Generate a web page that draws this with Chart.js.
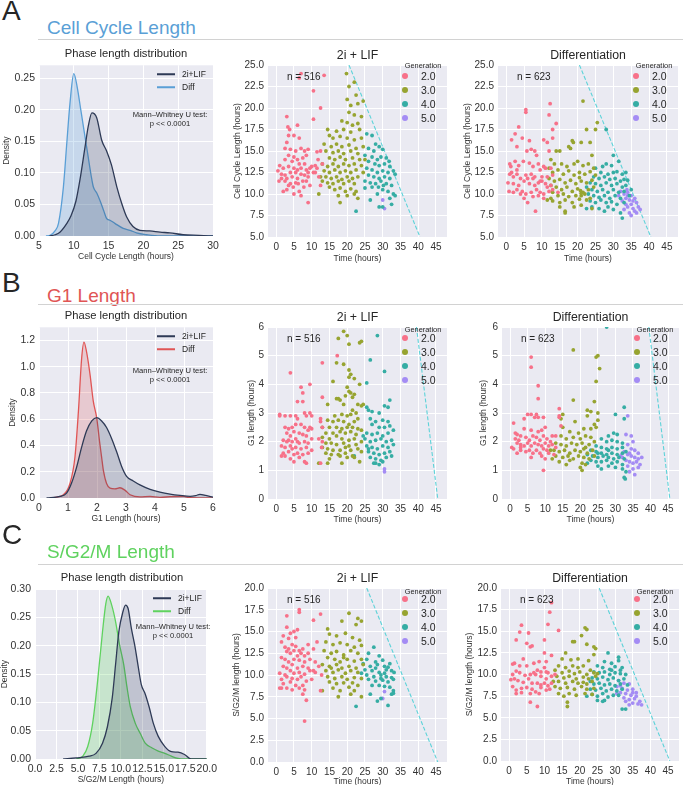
<!DOCTYPE html>
<html>
<head>
<meta charset="utf-8">
<script src="https://cdn.jsdelivr.net/npm/chart.js@4.4.1/dist/chart.umd.min.js"></script>
<style>
  body { margin: 0; width: 685px; height: 785px; position: relative; overflow: hidden; background: #fff;
         font-family: "Liberation Sans", Arial, sans-serif; color: #262626; }
  canvas { position: absolute; }
  .t { position: absolute; white-space: nowrap; line-height: 1; }
  .rule { position: absolute; height: 1px; background: #d2d2d2; }
  .dot { position: absolute; width: 6px; height: 6px; border-radius: 50%; transform: translate(-50%, -50%); }
  .key { position: absolute; width: 18px; height: 1.5px; transform: translateY(-50%); }
</style>
</head>
<body>
<script>
// ---- tick labels ----
const timeTicks = [0, 5, 10, 15, 20, 25, 30, 35, 40, 45];
const ccTicksY = [5, 7.5, 10, 12.5, 15, 17.5, 20, 22.5, 25];
const g1TicksY = [0, 1, 2, 3, 4, 5, 6];
const sgTicksY = [0, 2.5, 5, 7.5, 10, 12.5, 15, 17.5, 20];
const ccKdeTicksX = [5, 10, 15, 20, 25, 30];
const ccKdeTicksY = [0, 0.05, 0.1, 0.15, 0.2, 0.25];
const g1KdeTicksX = [0, 1, 2, 3, 4, 5, 6];
const g1KdeTicksY = [0, 0.2, 0.4, 0.6, 0.8, 1.0, 1.2];
const sgKdeTicksX = [0, 2.5, 5, 7.5, 10, 12.5, 15, 17.5, 20];
const sgKdeTicksY = [0, 0.05, 0.1, 0.15, 0.2, 0.25, 0.3];

const generations = ['2.0', '3.0', '4.0', '5.0'];
const conditions = ['2i+LIF', 'Diff'];
const cellCounts = [516, 623];

// ---- density curves [length, density] ----
const ccLif = [[6.5,0],[7.3,0.002],[8,0.006],[9,0.02],[9.6,0.032],[10.3,0.055],[10.9,0.09],[11.6,0.14],[12.1,0.175],[12.6,0.195],[13.3,0.187],[14,0.152],[14.7,0.135],[15.4,0.113],[16.2,0.077],[16.9,0.051],[17.6,0.03],[18.5,0.015],[19.5,0.009],[20.9,0.008],[22.4,0.006],[23.8,0.005],[25.7,0.002],[28,0.001],[30,0]];
const ccDiff = [[6,0],[6.6,0.001],[7.3,0.008],[7.8,0.02],[8.5,0.077],[9,0.148],[9.45,0.21],[10,0.257],[10.5,0.235],[11,0.2],[11.5,0.165],[12,0.13],[12.5,0.095],[12.8,0.078],[13.3,0.068],[13.8,0.055],[14.3,0.04],[14.7,0.028],[15.2,0.025],[15.9,0.02],[17.1,0.012],[18.1,0.009],[19,0.005],[20.5,0.002],[22.4,0],[30,0]];
const g1Lif = [[0.26,0],[0.72,0.012],[0.95,0.037],[1.12,0.112],[1.3,0.237],[1.47,0.387],[1.64,0.512],[1.82,0.587],[1.99,0.612],[2.16,0.587],[2.33,0.537],[2.51,0.45],[2.68,0.35],[2.85,0.24],[3.02,0.165],[3.25,0.13],[3.48,0.1],[3.83,0.066],[4.17,0.045],[4.52,0.03],[4.86,0.02],[5.21,0.013],[5.4,0.018],[5.55,0.028],[5.75,0.02],[6,0.006]];
const g1Diff = [[0.38,0],[0.84,0.025],[1.07,0.112],[1.24,0.312],[1.36,0.662],[1.47,1.062],[1.55,1.187],[1.64,1.112],[1.76,0.94],[1.87,0.74],[1.99,0.61],[2.1,0.41],[2.16,0.31],[2.22,0.21],[2.33,0.11],[2.45,0.075],[2.62,0.07],[2.79,0.078],[2.97,0.058],[3.14,0.025],[3.48,0.008],[3.83,0.012],[4.17,0.005],[4.52,0.01],[4.98,0.012],[5.21,0.002],[6,0]];
const sgLif = [[3.28,0],[4.8,0.002],[6.3,0.005],[7.1,0.01],[7.86,0.028],[8.43,0.057],[9,0.109],[9.38,0.167],[9.76,0.225],[10.23,0.26],[10.54,0.272],[10.84,0.266],[11.22,0.231],[11.6,0.202],[11.98,0.167],[12.37,0.132],[12.83,0.115],[13.29,0.092],[13.78,0.063],[14.35,0.04],[15.12,0.022],[15.88,0.013],[16.65,0.012],[17.41,0.008],[18.17,0],[20,0]];
const sgDiff = [[4.8,0],[5.57,0.005],[6.14,0.022],[6.71,0.063],[7.29,0.138],[7.86,0.225],[8.25,0.275],[8.51,0.288],[8.93,0.272],[9.38,0.243],[9.84,0.202],[10.33,0.167],[10.71,0.127],[11.1,0.092],[11.68,0.063],[12.26,0.045],[12.83,0.028],[13.59,0.02],[14.35,0.014],[15.12,0.01],[15.88,0.005],[16.65,0.001],[17.4,0],[20,0]];

// ---- per-cell points [time, length] by generation ----
const ccLif2 = [[6.5,23.5],[7,24],[13.5,23.8],[10.5,22],[12.5,20],[10.5,18.7],[3,19],[3.3,17.8],[3.8,17.5],[6,18],[3.5,16.8],[5,16.8],[6.5,16.5],[3,16],[2.5,15.3],[4,15.2],[5.5,15],[7,15.3],[8,15],[9,15.2],[3.5,14.5],[5,14.3],[6,14],[7.5,14.2],[8.5,14.5],[2.5,14],[4.5,13.8],[6.5,13.5],[8,13.5],[9.5,13],[1,13.3],[2,13],[3.5,13.2],[5,13],[6,12.8],[7,13],[8.5,12.8],[10,13.2],[11,13.3],[0.5,12.7],[1.5,12.3],[2.5,12.2],[4,12.5],[5.5,12.5],[7,12.3],[8,12.2],[9,12.5],[10.5,12.5],[1.5,11.8],[3,11.8],[4.5,12],[6,11.8],[7.5,11.5],[9,12],[0.8,11.5],[2.5,11.5],[4,11.2],[5.5,11.3],[8.5,11.5],[3.5,11],[4.8,10.8],[2,10.3],[3,10.5],[5,10],[6.5,10.3],[7,9.8],[9,9],[11.5,14.9],[11.5,13],[12,12],[11,12.5],[12.5,11],[12.5,15],[13,13.5],[11.8,14],[6.2,11.2],[7.8,10.8],[9.5,11]];
const ccLif3 = [[19.8,24],[20.5,22.5],[22,23],[20,21],[22.5,21.5],[21,20.3],[23,20.5],[24.5,20.8],[20.5,19.5],[22,19.2],[24,19],[18.5,18.5],[20,18.3],[21.5,18],[23,18.2],[14.5,17.5],[17,17.3],[19,17.5],[21,17.2],[23.5,17.5],[15,16.8],[16,16.5],[18,16.7],[20,16.5],[22,16.3],[24,16.5],[13.5,15.8],[15.5,15.5],[17,15.8],[18.5,15.5],[20.5,15.7],[22.5,15.3],[24.5,15.5],[14,15],[16,14.8],[17.5,15],[19,14.7],[21,15],[23,14.7],[15,14.2],[16.5,14],[18,14.3],[19.5,14],[21.5,14.2],[23.5,14],[13,13.5],[14.5,13.2],[16,13.5],[17.5,13.2],[19,13.5],[20.5,13.3],[22,13.5],[24,13.3],[13.5,12.7],[15,12.5],[16.5,12.8],[18,12.5],[19.5,12.7],[21,12.5],[22.5,12.8],[14,12],[15.5,11.8],[17,12],[18.5,11.7],[20,12],[21.5,11.8],[23,12],[13,11.5],[14.5,11.3],[16,11.2],[17.5,11.5],[19,11.2],[20.5,11.5],[22,11.2],[15,10.8],[16.5,10.5],[18,10.7],[19.5,10.3],[21,10.6],[22.5,10.3],[12,10],[17.5,9.8],[20,9.8],[22,10],[23,9.5],[18,9],[12.5,12],[24.5,12.5],[25,14]];
const ccLif4 = [[25.5,17],[27,16.8],[28,15.8],[29,15.5],[26,15.3],[27.5,15],[30,15.2],[25,14.5],[27,14.3],[28.5,14],[29.5,14.3],[31,14.2],[26,13.8],[27.8,13.5],[29,13.3],[30.5,13.5],[32,13.2],[25.5,13],[27,12.8],[28.5,12.5],[30,12.7],[31.5,12.5],[33,12.7],[26,12.2],[27.5,12],[29,11.8],[30.5,12],[32,11.8],[33.5,12.3],[25,11.5],[26.5,11.3],[28,11.2],[29.5,11.5],[31,11.2],[32.5,11],[25,10.7],[27,10.8],[30,10.5],[31.5,10.3],[33,10],[28.5,10],[32,9.5],[33.5,9.8],[26.5,9.3],[29,8.5],[30,8.5],[32.5,8.8],[22.5,8],[28.8,10.8],[31.8,13.8],[30.2,11]];
const ccLif5 = [[30.5,8.3],[30,9.3]];

const ccDiff2 = [[5.5,19.8],[5.5,19.5],[12.3,20.5],[12,19.2],[13,17.5],[14,18.2],[1.5,16.3],[2.5,17],[3.5,17.8],[4.5,16.5],[6.5,16.2],[10.5,16.3],[11.5,16],[13,16.5],[3,15.5],[5.8,15],[7,15.2],[8,15],[8.5,14.5],[12,15],[1,13.5],[1.3,13.2],[2.5,13.8],[3.5,13.3],[4.8,13.8],[6.5,13.6],[7.5,13.2],[9,13.5],[10.5,13.2],[11,13],[12.5,13],[1,12.3],[2,12],[3,12.3],[4,11.8],[5.5,12.2],[7,12.3],[8,12],[9.5,11.5],[10,12],[11.5,12],[13,12.2],[0.5,11.3],[2,11.2],[3.5,11],[5,11.5],[6.5,11.2],[8,11],[9,11.3],[10,11.5],[11,11.2],[12.5,11],[0.8,10.3],[2,10.2],[3,10.5],[4.5,10.3],[5.5,10],[7,10.2],[8.5,10.5],[9.5,10.2],[10.5,10],[12,10.3],[13,10.5],[5,9.5],[6,9],[7.5,9.7],[8.2,8],[9,9.8],[10.5,9.5],[14.5,10.2],[11.5,10.8],[4,10],[1.5,12.5],[6,11.8],[7.5,11.8],[9.5,12.8],[3,12.8]];
const ccDiff3 = [[21.5,20.8],[25.5,18.3],[25,17.5],[22.5,17.5],[18.5,16.2],[18.8,16],[17.5,15.5],[21,16],[23.5,16],[14,15],[15,15],[18,15.3],[24,14.5],[12.5,14],[13.5,13.5],[15.5,13.5],[17,13.2],[19,13.5],[20,13.8],[21.5,13.3],[23,13.5],[24.5,13],[12,13],[13,12.5],[14.5,12.8],[16,12.3],[17.5,12.7],[19,12.2],[20.5,12.5],[22,12.3],[23.5,12.6],[25,12.2],[12,11.8],[13.5,11.5],[15,11.7],[16.5,11.3],[18,11.6],[19.5,11.2],[21,11.5],[22.5,11.3],[24,11.6],[12.5,11],[14,10.8],[15.5,10.5],[17,10.8],[18.5,10.3],[20,10.6],[21.5,10.2],[23,10.5],[24.5,10.8],[13,10.2],[14.5,9.8],[16,10],[17.5,9.7],[19.5,9.8],[21,9.8],[22,10],[23.5,9.5],[12.5,9.5],[15,9],[16.5,9.3],[18.5,9],[20.5,9.4],[22.5,9.3],[11.5,9.3],[15,8.5],[16.5,8],[16.5,7.8],[19,8.5],[21,8.7],[21,10.1],[20.8,10.4],[20.5,11.9],[24,8.3],[13,9.2]];
const ccDiff4 = [[28,17.5],[30,14.5],[31.5,13.8],[28,13.5],[27,13.2],[29.5,13.3],[25,13],[26.5,12.5],[28.5,12.3],[30,12.5],[31,12.6],[32.5,12.3],[33.5,12.5],[24.5,12],[26,11.8],[27.5,12],[29,11.7],[30.5,11.8],[32,11.5],[33,11.7],[34,11.6],[23.5,11.3],[25,11.2],[26.5,11],[28,11.3],[29.5,11],[31,11.2],[32.5,10.8],[33.5,11],[22.5,10.8],[24,10.5],[25.5,10.3],[27,10.5],[28.5,10.2],[30,10.5],[31.5,10.2],[33,10.3],[23,10],[24.5,9.8],[26,9.6],[27.5,9.8],[29,9.5],[30.5,9.8],[32,9.5],[34.5,9.8],[23.5,9.2],[25,9],[26.5,9.3],[28,9],[29.5,9.1],[31,8.8],[33,9],[24,8.5],[26,8.3],[28.5,8.5],[30,8.2],[32,7.8],[32.5,7.2],[22.5,8.3],[27.5,8],[35,10.5]];
const ccDiff5 = [[32,10.3],[33,10],[34,10.2],[35,9.8],[33.5,9.5],[34.5,9.3],[36,9.5],[32.5,9.2],[33.5,8.8],[35,8.8],[36.5,9],[34,8.5],[35.5,8.3],[36,8],[37,8.5],[34.5,7.8],[33,8.2],[35,7.5],[36.5,7.8],[31.5,9.8],[34,9.8],[35.5,9.2],[37.5,8.2],[33.8,10.5]];

const g1Lif2 = [[4,4.4],[7,3.9],[7.5,3.7],[9.5,4],[6,3.4],[7.5,3.4],[13,3.55],[13,4.75],[17.2,5],[1,2.95],[1,2.9],[2.5,2.9],[4,2.9],[6,2.8],[8,3],[8.5,2.9],[9.5,3],[10,2.9],[12.5,2.8],[12.5,2.7],[2.5,2.5],[3.5,2.45],[4.5,2.5],[5.5,2.6],[7,2.6],[8,2.5],[9,2.4],[10,2.45],[13,2.5],[3,2.3],[4,2.2],[5,2.35],[6.5,2.3],[7.5,2.25],[8.5,2.2],[10,2.1],[2,2.05],[3.5,2.05],[4.5,2],[5.5,2.1],[6.5,1.95],[8,2],[9,1.95],[12,2.1],[1.5,1.85],[2.5,1.8],[4,1.85],[5.5,1.8],[7,1.75],[8.5,1.8],[10,1.7],[2,1.6],[3.5,1.65],[5,1.55],[6,1.6],[7.5,1.55],[9,1.6],[1.5,1.5],[2.5,1.5],[4,1.4],[6.5,1.45],[8,1.3],[8.5,1.25],[5,1.3],[12.5,1.25],[13,2],[12.8,1.8],[5.5,2.9],[6,2],[3,2],[4.5,1.75],[9.5,2.5]];
const g1Lif3 = [[19,5.85],[20,5.7],[17.5,5.6],[20.5,5.4],[24,5.5],[23.5,5.45],[17,4.75],[19,4.7],[20.5,4.5],[21,4.35],[20.5,4.25],[22,4.2],[16,4.1],[23.5,4],[20,3.9],[20.5,3.75],[19.5,3.6],[21,3.7],[21.5,3.55],[22,3.65],[17,3.5],[17.5,3.5],[18,3.45],[14.5,3.3],[19,3.3],[23,3.3],[24,3.25],[24.5,3.3],[21.5,3.1],[22.5,3],[16.5,2.9],[18.5,2.95],[20,2.9],[21,2.95],[23,2.8],[14.5,2.75],[16,2.7],[17.5,2.75],[19,2.7],[20.5,2.6],[22,2.7],[15,2.5],[17,2.5],[18.5,2.45],[20,2.5],[21.5,2.5],[23,2.45],[14,2.3],[16,2.3],[18,2.35],[19.5,2.3],[21,2.35],[22.5,2.25],[24,2.4],[13,2.15],[15,2.1],[17,2.2],[18.5,2.1],[20.5,2.05],[22,2.1],[24,2],[14,1.95],[15.5,1.95],[17,1.9],[19,1.95],[20.5,1.85],[22.5,1.9],[13,1.8],[14.5,1.75],[16,1.7],[18,1.7],[19.5,1.8],[21,1.7],[23,1.75],[14,1.6],[15.5,1.55],[17.5,1.55],[19.5,1.6],[21.5,1.5],[24,1.65],[15,1.4],[18,1.5],[20,1.45],[22,1.45],[14.5,1.25],[18.5,1.25],[23.5,1.3],[12,1.25],[13,2.5]];
const g1Lif4 = [[28.5,5.7],[26.5,4.85],[30.5,4.45],[25.5,4.05],[30.5,3.25],[31.5,3.2],[32,3.45],[25.5,3.2],[26,3.1],[29,3],[26.5,2.8],[28,2.7],[30,2.75],[31.5,2.7],[27,2.6],[29,2.5],[30.5,2.5],[32,2.55],[25.5,2.3],[27,2.25],[28.5,2.3],[30,2.2],[31.5,2.3],[33,2.4],[25,2.1],[26.5,2],[28,2.05],[29.5,2.1],[31,2],[32.5,2.05],[25.5,1.85],[27,1.8],[28.5,1.75],[30,1.85],[31.5,1.8],[33,1.9],[26,1.65],[27.5,1.6],[29,1.55],[30.5,1.6],[32,1.65],[26.5,1.45],[28,1.4],[29.5,1.35],[31,1.45],[32.5,1.5],[27.5,1.25],[29,1.2],[28,1.25],[22,1.5],[26,1.75],[24.5,2.2],[27,3.05],[30,1.3]];
const g1Lif5 = [[30.5,1.05],[30.5,0.95]];

const g1Diff2 = [[6,4.95],[6,4.6],[8,3.95],[8,3.5],[14,3.15],[14,2.9],[14,2.85],[5,2.95],[6,2.95],[7,2.85],[7.5,2.95],[8,2.85],[4,2.8],[9.5,2.85],[14.5,2.55],[1,2.65],[1.5,2.3],[2,2.25],[4,2.45],[6,2.4],[8,2.35],[9,2.4],[10,2.5],[13,2.2],[1.5,2.1],[2.5,2.05],[3,2.2],[4.5,2.15],[5.5,2.05],[6.5,2.2],[7.5,2.15],[8.5,2.05],[9.5,2.2],[10.5,2.1],[12,2.2],[0.5,1.8],[1,1.75],[2,1.95],[3,1.9],[4,1.85],[5,1.95],[6,1.85],[7,1.95],[8,1.9],[9,1.85],[10,1.95],[11,1.85],[12,1.9],[13,1.8],[2,1.6],[3,1.7],[4.5,1.65],[5.5,1.7],[6.5,1.6],[7.5,1.7],[8.5,1.6],[9.5,1.75],[11,1.6],[12.5,1.55],[6,1.45],[9,1.5],[10,1.4],[9.5,1],[3,1.8],[10.5,1.7],[11.5,2]];
const g1Diff3 = [[18,5.2],[24.5,4.95],[25,5],[25.5,4.55],[24.5,4.1],[18,3.45],[24,3.4],[23,3.05],[22,3.1],[22,2.9],[25,3],[24,2.6],[25,2.75],[24.5,2.5],[15,2.95],[14.5,2.8],[15,2.5],[18.5,2.7],[14.5,2.2],[17,2.35],[19.5,2.3],[21,2.45],[23,2.45],[16,2.1],[18,2.15],[20,2.1],[21.5,2.2],[23,2.15],[24,2],[13,1.95],[14.5,1.9],[16,1.85],[17.5,1.95],[19,1.9],[20.5,1.95],[21.5,1.8],[22.5,1.9],[12.5,1.7],[14,1.65],[15.5,1.7],[17,1.6],[18.5,1.7],[20,1.65],[21,1.75],[22,1.6],[23.5,1.7],[13,1.5],[15,1.45],[16.5,1.5],[18,1.4],[19.5,1.5],[21,1.45],[22.5,1.4],[24,1.5],[12,1.4],[14,1.3],[17,1.35],[20.5,1.25],[21.5,1.2],[20,1.1],[20.5,1],[11.5,1.7],[16,1.2]];
const g1Diff4 = [[27.5,6],[32.5,3.2],[30,2.95],[32.5,2.8],[29.5,2.3],[30.5,2.25],[28,2.2],[26,2.1],[27.5,2],[29,2.05],[30.5,2],[32,1.95],[24.5,1.85],[26,1.8],[27.5,1.75],[29,1.8],[30.5,1.75],[32,1.8],[23,1.7],[24.5,1.65],[26,1.6],[27.5,1.55],[29,1.6],[30.5,1.55],[32,1.6],[33,1.65],[22,1.55],[23.5,1.5],[25,1.45],[26.5,1.5],[28,1.45],[29.5,1.4],[31,1.45],[32.5,1.4],[23,1.35],[24.5,1.3],[26,1.3],[27.5,1.35],[29,1.25],[30.5,1.3],[32,1.2],[25,1.15],[26,1.05],[28,1.15],[30,1.1],[32,1.05],[33,0.95],[32.5,0.75],[32.8,0.7],[22,1.25],[25,1.6],[28,1.7]];
const g1Diff5 = [[33.5,2.9],[33,2.25],[34.5,2.2],[35,2],[33.5,1.9],[34.5,1.75],[35.5,1.7],[36.5,1.6],[32.5,1.65],[33.5,1.55],[34.5,1.5],[35.5,1.45],[36.5,1.4],[32,1.45],[33,1.35],[34,1.3],[35,1.25],[36,1.3],[37,1.2],[33.5,1.15],[35,1.05],[36.5,1.1],[34,0.95],[35.5,0.85],[37.5,1.45],[31.5,1.5],[34,1.6]];

const sgLif2 = [[6.5,17.5],[6.5,17.2],[3,16.8],[12.5,17],[10.5,16.3],[3,15.5],[6,15.2],[5,15],[4,14.8],[2,14.5],[3.5,14.2],[5.5,14.3],[1.5,13.8],[9,13.5],[11.5,13.8],[2.5,13.2],[3.5,13],[4.5,13.5],[5.5,13.3],[6.5,12.8],[7.5,13],[3,12.7],[4,12.5],[5,12.8],[6,12.2],[7,12.5],[8,12.2],[9,12.5],[10.5,13],[1.5,12],[2.5,11.8],[3.5,11.5],[5,11.8],[6.5,11.7],[8,11.5],[9.5,11.8],[11,11.5],[2,11],[3,10.8],[4.5,11.2],[6,10.8],[7.5,11],[9,10.8],[10.5,10.5],[12,11],[1,10.2],[2.5,10],[4,10.5],[5,10.2],[6.5,10.3],[8,10.1],[9.5,10.5],[11,10.3],[1.5,9.5],[3,9.8],[4.5,9.6],[6,9.5],[7,9.8],[8.5,9.3],[10,9.5],[2,9],[4,9.2],[5.5,8.8],[7.5,8.8],[1,8.5],[1.5,8.5],[3,8.5],[4.5,8.3],[6.5,8.5],[8,8.3],[12.5,8.2],[7.5,7.8],[8.5,7.1],[8,4.7],[12.8,10]];
const sgLif3 = [[20.5,17.1],[18.5,16.2],[23,16.5],[24,16.2],[22.5,15.8],[14.5,15.3],[15,14.7],[17,14.5],[19.5,14.8],[21.5,14.3],[23.5,14],[14,13.8],[16,13.5],[18,13.7],[20,13.5],[22,13.2],[24,13.4],[13.5,12.8],[15.5,12.5],[17,12.7],[19,12.3],[21,12.8],[23,12.5],[14.5,12],[16.5,11.8],[18,11.5],[20,11.8],[22,11.6],[24,11.8],[13,11.2],[15,11],[17,11.2],[18.5,10.8],[20.5,11],[22.5,10.8],[24.5,11.2],[14,10.5],[16,10.3],[17.5,10.6],[19.5,10.2],[21,10.5],[23,10.3],[14.5,9.8],[16.5,9.6],[18.5,9.8],[20,9.5],[22,9.7],[24,9.6],[15,9.2],[17,9],[19,9.1],[21.5,9.1],[23,8.8],[13,8.2],[16,8.5],[18,8.2],[20.5,8.6],[22,8.2],[17.5,7.5],[21,7.8],[24,7.5],[15.5,10.8],[19,12]];
const sgLif4 = [[27.5,13.2],[26,12.5],[29,12.2],[25.5,11.8],[28,11.5],[30,11.7],[24.5,11.3],[26.5,11],[28.5,11.2],[30.5,11],[32,11.3],[25,10.6],[27,10.5],[29,10.3],[31,10.6],[32.5,10.5],[25.5,10],[27.5,9.8],[29.5,10],[31,9.8],[32.5,9.7],[26,9.5],[28,9.3],[30,9.4],[31.5,9.2],[33,9.5],[27,8.8],[29,8.8],[30.5,8.7],[32,8.6],[33,8.2],[32.5,7.8],[33,7.9],[26.5,7.8],[28.5,7],[29.5,7.3],[31.5,6.5],[22.5,6.4],[24,10.2],[28,10.8],[30.5,10.2],[31.5,10.9],[29.5,9.6],[33.2,10.3]];
const sgLif5 = [[30.5,8.1],[30,7.3]];

const sgDiff2 = [[12,18.3],[11.5,17.2],[11,15.8],[14,15.1],[3.5,15.7],[3,14.9],[5.5,14.8],[2,14],[5,13.6],[6.5,13.3],[6,13.2],[10,14],[4,11.8],[1,11.2],[1.5,11.3],[3,11],[5,11],[7,11.3],[8.5,11.5],[10,12.5],[10.5,11.5],[12,12.2],[8,10.5],[9,10.3],[10,10.8],[11,10.2],[1,10],[2,10.4],[3,10.2],[4.5,9.9],[6,10],[7,10.2],[7.5,10],[9,9.8],[10.5,9.5],[12,9.8],[13,10],[0.5,9.4],[1.5,9.5],[2.5,9.3],[4,9.1],[5.5,9.5],[6.5,9],[8,9],[9,8.8],[10,9],[11,8.7],[12,9],[1,8.6],[2,8.2],[3.5,8.4],[5,8.5],[6.5,8.3],[7.5,8],[9,8.5],[10.5,8.2],[2,7.8],[3.5,7.9],[6,7.8],[8.5,7.8],[11.5,8.3],[6,6.8],[8,6.3],[10.5,10.3]];
const sgDiff3 = [[21.5,15.4],[22,15.2],[20.5,14.5],[22,13.5],[18,13.8],[18.5,13.8],[24,13.2],[24.5,13],[16,12.5],[24,12.3],[15,11.8],[17.5,11.7],[19.5,11.8],[22.5,11.6],[14,11],[16,10.8],[18,11],[19.5,10.8],[21,11],[23,10.5],[13,10.5],[15,10.2],[17,10.4],[18.5,10.1],[20,10.3],[22,10],[24,10.2],[13.5,9.8],[15.5,9.6],[17,9.8],[19,9.5],[21,9.7],[22.5,9.5],[24.5,9.8],[14,9.2],[16,9],[18,9.2],[19.5,9],[21,9.1],[22,8.9],[23.5,9.2],[13,8.6],[14.5,8.4],[16.5,8.5],[18.5,8.3],[20.5,8.6],[22,8.3],[24,8.4],[14,7.8],[15.5,7.5],[17,7.8],[19,7.6],[21.5,7.8],[23.5,7.7],[16.5,6.8],[16.5,6.3],[12.5,9.2],[25,10.1]];
const sgDiff4 = [[28,12.5],[31,11.6],[31,12],[29,11.3],[27,11.5],[25,11],[26.5,10.8],[28.5,10.6],[30,10.9],[32,10.8],[24,10.3],[25.5,10.2],[27,10.3],[28.5,10],[30,10.2],[31.5,10.1],[33,10],[23.5,9.6],[25,9.5],[26.5,9.7],[28,9.4],[29.5,9.6],[31,9.3],[32.5,9.5],[24,8.9],[25.5,9],[27,8.8],[28.5,8.9],[30,8.7],[31.5,8.9],[23,8.3],[24.5,8.2],[26,8.4],[27.5,8.1],[29,8.3],[30.5,8.1],[32,8.3],[23.5,7.7],[25,7.5],[26.5,7.8],[28,7.4],[29.5,7.6],[31,7.6],[25,7],[27,7],[22,7.5],[26.5,6.9],[32,6],[33,6],[23,9.2],[29,10.5],[31.5,10.5],[33.5,8.8]];
const sgDiff5 = [[31,9.3],[32.5,9],[34,8.9],[30.5,8.6],[32,8.4],[33.5,8.2],[35,8.3],[31.5,7.9],[33,7.8],[34.5,7.6],[36,7.5],[32.5,7.3],[34,7.1],[35.5,7.2],[37,6.9],[35,6.7],[36.5,6.6],[37.5,6.5],[34,6.5],[33,6.9],[30.5,7.8],[31.5,8.7],[35,7.9],[36,7.9]];

// experiment end cut-off (length = end - birth time), two end points per phase
const ccCutoff = [[20.5, 25], [40.5, 5]];
const g1Cutoff = [[39.5, 6], [45.5, 0]];
const sgCutoff = [[25.5, 20], [45.5, 0]];

// ---- styling ----
const FONT = '"Liberation Sans", Arial, sans-serif';
const genColors = ['#f77189', '#97a431', '#36ada4', '#a48cf4'];
const lifColor = '#2e3a56';
const headColors = { cc: '#5a9fd6', g1: '#e05555', sg: '#5fd25f' };

const plotBg = {
  id: 'plotBg',
  beforeDraw(chart) {
    const { ctx, chartArea: a } = chart;
    ctx.save();
    ctx.fillStyle = '#eaeaf2';
    ctx.fillRect(a.left, a.top, a.right - a.left, a.bottom - a.top);
    ctx.restore();
  }
};

function axis(min, max, ticks, fmt, title, size, tickSize) {
  return {
    type: 'linear', min, max,
    afterBuildTicks: s => { s.ticks = ticks.map(v => ({ value: v })); },
    afterFit: s => { if (s.isHorizontal()) s.height = size; else s.width = size; },
    grid: { color: '#ffffff', lineWidth: 1, drawTicks: false },
    border: { display: false },
    ticks: { color: '#333', font: { family: FONT, size: tickSize }, padding: 4, autoSkip: false,
             maxRotation: 0, minRotation: 0, callback: v => fmt(v) },
    title: { display: true, text: title, color: '#333', font: { family: FONT, size: 8.5 },
             padding: { top: 0.9, bottom: 0.9 } }
  };
}

function text(str, x, y, size, opt = {}) {
  const d = document.createElement('div');
  d.className = 't';
  d.textContent = str;
  d.style.left = x + 'px';
  d.style.top = y + 'px';
  d.style.fontSize = size + 'px';
  d.style.transform = `translate(${opt.left ? '0' : '-50%'}, -50%)`;
  if (opt.color) d.style.color = opt.color;
  document.body.appendChild(d);
}

function panel(p, type, datasets, xs, ys) {
  // canvas bottom sits a little below the x title so the title lands where the reference has it
  const cl = p.yTitleX - 6, ct = p.T - 8, cr = p.R + 12, cb = p.xTitleY + 8;
  const cv = document.createElement('canvas');
  cv.width = cr - cl; cv.height = cb - ct;
  cv.style.left = cl + 'px'; cv.style.top = ct + 'px';
  document.body.appendChild(cv);
  new Chart(cv, {
    type,
    data: { datasets },
    options: {
      responsive: false, animation: false, devicePixelRatio: 1,
      layout: { padding: { top: 8, right: 12, left: 0, bottom: 0 } },
      plugins: { legend: { display: false }, tooltip: { enabled: false } },
      scales: {
        x: axis(xs.min, xs.max, xs.ticks, xs.fmt, xs.title, cb - p.B, xs.size),
        y: axis(ys.min, ys.max, ys.ticks, ys.fmt, ys.title, p.L - cl, ys.size)
      }
    },
    plugins: [plotBg]
  });
}

const pts = a => a.map(([x, y]) => ({ x, y }));
const f0 = v => String(v), f1 = v => v.toFixed(1), f2 = v => v.toFixed(2);

function kdePanel(p, lif, diff, diffColor, diffFill, xs, ys, notes) {
  const ds = [
    { data: pts(lif), borderColor: lifColor, backgroundColor: 'rgba(46,58,86,0.22)' },
    { data: pts(diff), borderColor: diffColor, backgroundColor: diffFill }
  ].map(d => Object.assign(d, { fill: 'origin', borderWidth: 1.3, pointRadius: 0, cubicInterpolationMode: 'monotone' }));
  panel(p, 'line', ds, xs, ys);
  text('Phase length distribution', (p.L + p.R) / 2, p.T - 9, 11.2);
  [lifColor, diffColor].forEach((c, i) => {
    const k = document.createElement('div');
    k.className = 'key';
    k.style.left = (p.L + 118) + 'px';
    k.style.top = (p.T + 11 + i * 13) + 'px';
    k.style.background = c;
    document.body.appendChild(k);
    text(conditions[i], p.L + 143, p.T + 11 + i * 13, 8.5, { left: true });
  });
  text('Mann\u2013Whitney U test:', p.L + notes[0], p.T + notes[1], 7.6);
  text('p << 0.0001', p.L + notes[0], p.T + notes[1] + 9, 7.6);
}

function scatterPanel(p, gens, cutoff, title, count, ys, legTop) {
  const ds = gens.map((g, i) => ({
    type: 'scatter', data: pts(g), backgroundColor: genColors[i], borderWidth: 0, pointRadius: 1.9
  }));
  ds.push({ type: 'line', data: pts(cutoff), borderColor: '#5ed3d9', borderWidth: 1.1,
            borderDash: [4, 2], pointRadius: 0, fill: false });
  panel(p, 'scatter', ds,
        { min: -2.3, max: 48.1, ticks: timeTicks, fmt: f0, title: 'Time (hours)', size: 10 }, ys);
  text(title, (p.L + p.R) / 2, p.T - 8, 12.3);
  text('n = ' + count, p.L + 19, p.T + 14, 10, { left: true });
  text('Generation', p.R - 24, p.T + legTop, 7.4);
  generations.forEach((g, i) => {
    const d = document.createElement('div');
    d.className = 'dot';
    d.style.left = (p.R - 42) + 'px';
    d.style.top = (p.T + 12.5 + i * 14.3) + 'px';
    d.style.background = genColors[i];
    document.body.appendChild(d);
    text(g, p.R - 26, p.T + 12.5 + i * 14.3, 10.5, { left: true });
  });
}

function header(letter, title, color, letterY, titleY, ruleY) {
  text(letter, 2, letterY, 28, { left: true });
  text(title, 47, titleY, 19, { left: true, color });
  const r = document.createElement('div');
  r.className = 'rule';
  r.style.left = '38px'; r.style.right = '2px'; r.style.top = ruleY + 'px';
  document.body.appendChild(r);
}

// ---- row A: cell cycle ----
header('A', 'Cell Cycle Length', headColors.cc, 11, 27, 39);
kdePanel({ L: 39, T: 63, R: 213, B: 236, yTitleX: 7, xTitleY: 255 }, ccLif, ccDiff,
  '#5a9fd6', 'rgba(90,159,214,0.25)',
  { min: 5, max: 30, ticks: ccKdeTicksX, fmt: f0, title: 'Cell Cycle Length (hours)', size: 10.5 },
  { min: 0, max: 0.2703, ticks: ccKdeTicksY, fmt: f2, title: 'Density', size: 10.5 }, [131, 52]);
const ccY = { min: 5, max: 25, ticks: ccTicksY, fmt: f1, title: 'Cell Cycle Length (hours)', size: 10 };
scatterPanel({ L: 268, T: 63, R: 447, B: 237, yTitleX: 238, xTitleY: 257 },
  [ccLif2, ccLif3, ccLif4, ccLif5], ccCutoff, '2i + LIF', cellCounts[0], ccY, 2.5);
scatterPanel({ L: 498, T: 63, R: 678, B: 237, yTitleX: 468, xTitleY: 257 },
  [ccDiff2, ccDiff3, ccDiff4, ccDiff5], ccCutoff, 'Differentiation', cellCounts[1], ccY, 2.5);

// ---- row B: G1 ----
header('B', 'G1 Length', headColors.g1, 283, 294.5, 303.5);
kdePanel({ L: 39, T: 325, R: 213, B: 498, yTitleX: 13, xTitleY: 517 }, g1Lif, g1Diff,
  '#e05555', 'rgba(224,85,85,0.22)',
  { min: 0, max: 6, ticks: g1KdeTicksX, fmt: f0, title: 'G1 Length (hours)', size: 10.5 },
  { min: 0, max: 1.3, ticks: g1KdeTicksY, fmt: f1, title: 'Density', size: 10.5 }, [131, 46]);
const g1Y = { min: 0, max: 6, ticks: g1TicksY, fmt: f0, title: 'G1 length (hours)', size: 10 };
scatterPanel({ L: 268, T: 325, R: 447, B: 499, yTitleX: 252, xTitleY: 518 },
  [g1Lif2, g1Lif3, g1Lif4, g1Lif5], g1Cutoff, '2i + LIF', cellCounts[0], g1Y, 5);
scatterPanel({ L: 502, T: 325, R: 679, B: 499, yTitleX: 484, xTitleY: 518 },
  [g1Diff2, g1Diff3, g1Diff4, g1Diff5], g1Cutoff, 'Differentiation', cellCounts[1], g1Y, 5);

// ---- row C: S/G2/M ----
header('C', 'S/G2/M Length', headColors.sg, 535, 550.5, 564);
kdePanel({ L: 35, T: 587, R: 209, B: 759, yTitleX: 5, xTitleY: 778 }, sgLif, sgDiff,
  '#5fd25f', 'rgba(95,210,95,0.25)',
  { min: 0, max: 20, ticks: sgKdeTicksX, fmt: f1, title: 'S/G2/M Length (hours)', size: 10.5 },
  { min: 0, max: 0.3, ticks: sgKdeTicksY, fmt: f2, title: 'Density', size: 10.5 }, [138, 40]);
const sgY = { min: 0, max: 20, ticks: sgTicksY, fmt: f1, title: 'S/G2/M length (hours)', size: 10 };
scatterPanel({ L: 268, T: 586, R: 447, B: 762, yTitleX: 237, xTitleY: 780 },
  [sgLif2, sgLif3, sgLif4, sgLif5], sgCutoff, '2i + LIF', cellCounts[0], sgY, 5.5);
scatterPanel({ L: 501, T: 586, R: 679, B: 761, yTitleX: 470, xTitleY: 780 },
  [sgDiff2, sgDiff3, sgDiff4, sgDiff5], sgCutoff, 'Differentiation', cellCounts[1], sgY, 5.5);
</script>
</body>
</html>
